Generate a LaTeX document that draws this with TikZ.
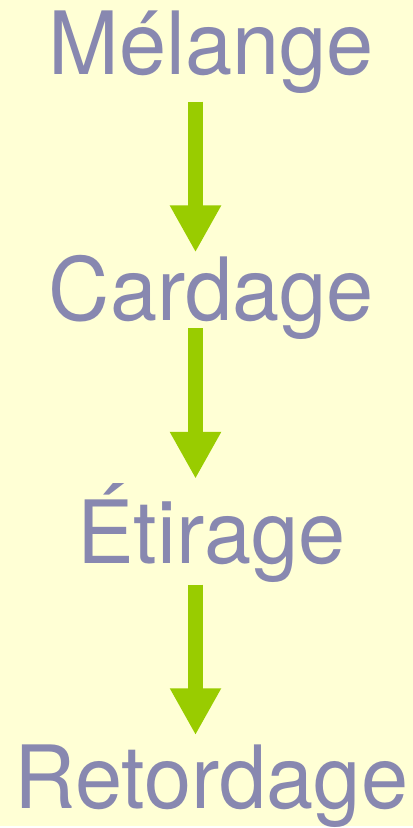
\documentclass[tikz,border=0pt]{standalone}
\usepackage{fontspec}
\setmainfont{TeX Gyre Heros}
\usetikzlibrary{arrows.meta,positioning}
\definecolor{bgyellow}{RGB}{255,255,213}
\definecolor{textpurple}{RGB}{136,136,176}
\definecolor{arrowgreen}{RGB}{153,204,0}

\begin{document}
\begin{tikzpicture}[x=1pt,y=1pt]
\tikzstyle{stage}=[inner sep=0pt, anchor=base, text=textpurple, font=\fontsize{85pt}{90pt}\selectfont, yscale=1.03]
\tikzstyle{connect}=[-{Triangle[width=48pt,length=47pt]}, line width=15.7pt, draw=arrowgreen]

  \fill[bgyellow] (0,0) rectangle (414,828);
  \node[stage] (melange) at (212,753) {Mélange};
  \node[stage] (cardage) [below=246pt of melange.base, anchor=base] {Cardage};
  \node[stage] (etirage) [below=244pt of cardage.base, anchor=base] {Étirage};
  \node[stage] (retordage) [below=246pt of etirage.base, anchor=base] {Retordage};
  \path ([shift={(-16pt,-27pt)}]melange.base) edge [connect] ([shift={(-16pt,68pt)}]cardage.base)
        ([shift={(-16pt,-8pt)}]cardage.base) edge [connect] ([shift={(-16pt,85pt)}]etirage.base)
        ([shift={(-16pt,-21pt)}]etirage.base) edge [connect] ([shift={(-16pt,74pt)}]retordage.base);
\end{tikzpicture}
\end{document}
